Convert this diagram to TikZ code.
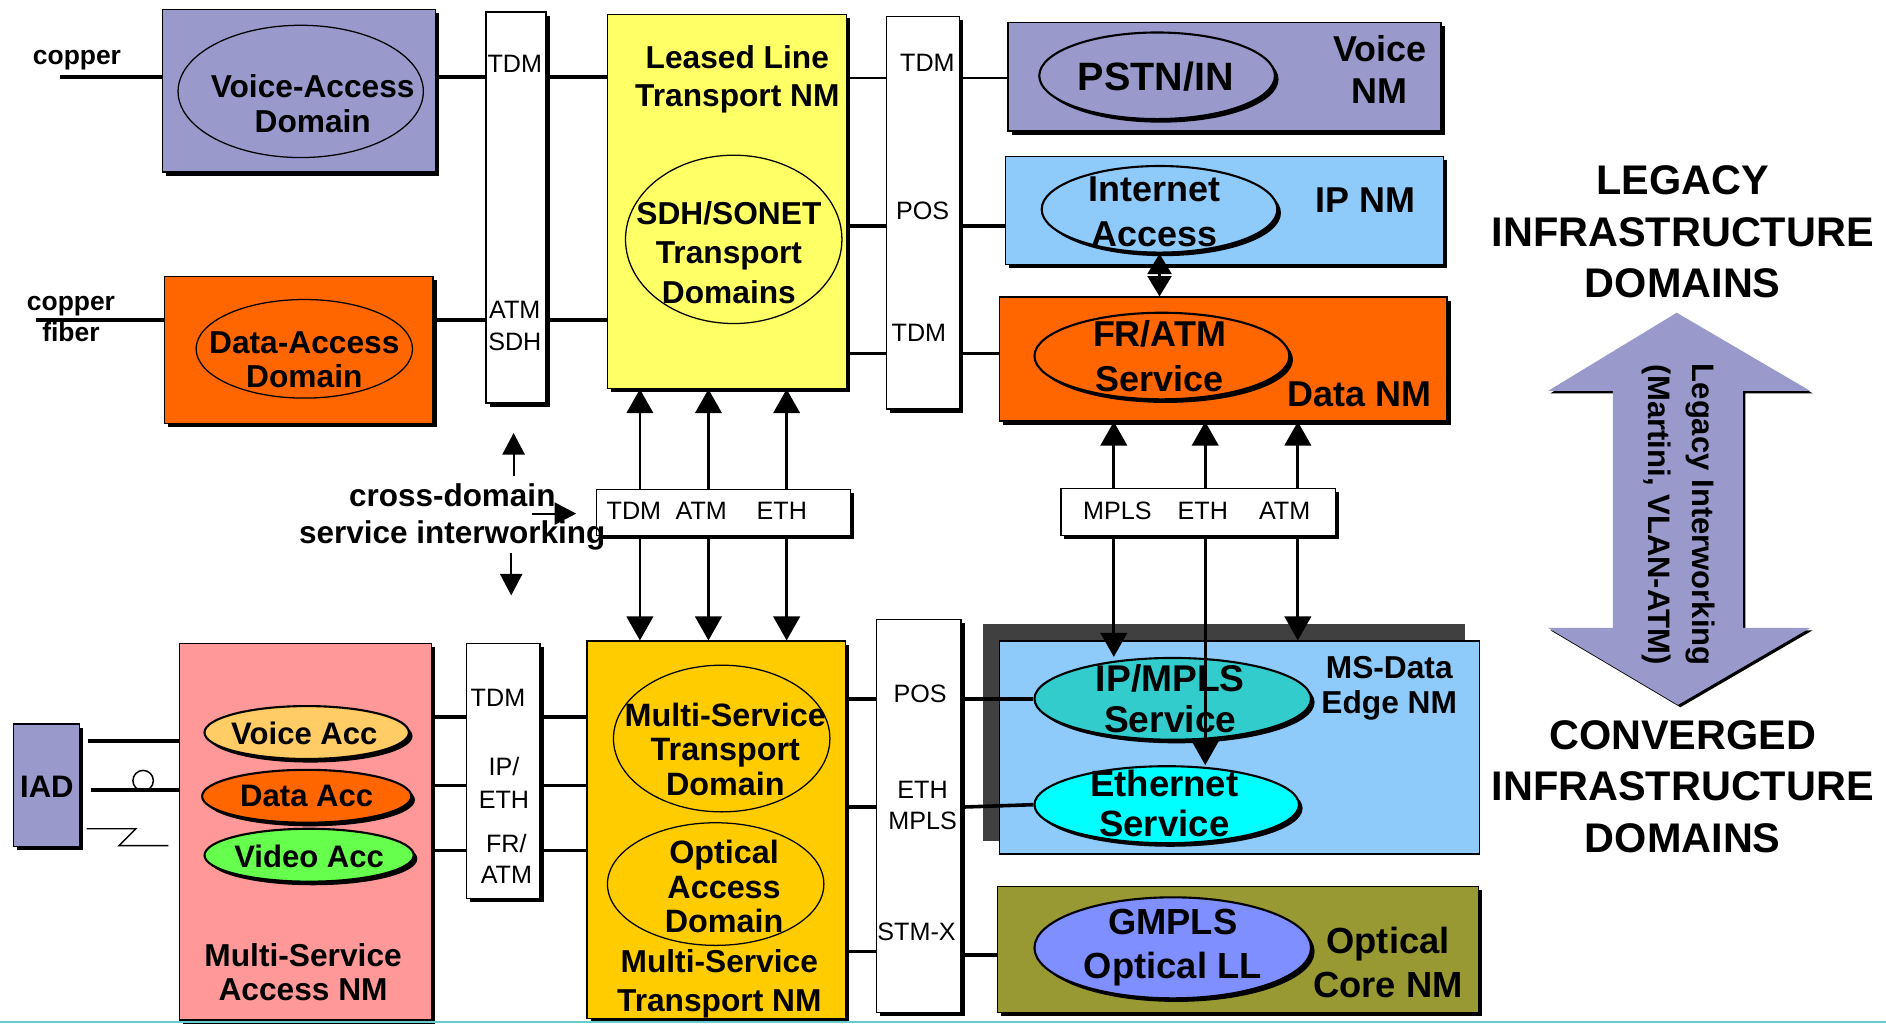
\documentclass[tikz,border=0pt]{standalone}
\usepackage{fontspec}
\setmainfont{Liberation Sans}
\usetikzlibrary{shapes.geometric, fit, shadows, arrows.meta, positioning}

\definecolor{lav}{HTML}{9999CC}
\definecolor{orng}{HTML}{FF6600}
\definecolor{ylw}{HTML}{FFFF66}
\definecolor{ltblue}{HTML}{8ECBFB}
\definecolor{gold}{HTML}{FFCC00}
\definecolor{pnk}{HTML}{FF9999}
\definecolor{olv}{HTML}{999933}
\definecolor{vacc}{HTML}{FFCC66}
\definecolor{grn}{HTML}{66FF4D}
\definecolor{tealc}{HTML}{33CCCC}
\definecolor{cyn}{HTML}{00FFFF}
\definecolor{peri}{HTML}{7F8FFF}
\definecolor{dkgray}{HTML}{404040}
\definecolor{rulec}{HTML}{66CCCC}

\tikzset{
  box/.style={draw, line width=0.6pt, inner sep=0pt},
  shad/.style={drop shadow={shadow xshift=0.06cm, shadow yshift=-0.06cm, fill=black, opacity=1}},
  ell/.style 2 args={ellipse, draw, line width=0.6pt, inner sep=0pt, minimum width=#1*0.04cm, minimum height=#2*0.04cm},
  sell/.style={shad, line width=1pt},
  lbl/.style 2 args={font=\bfseries\fontsize{#1}{#2}\selectfont, align=center, inner sep=0pt},
  proto/.style={font=\fontsize{11.9}{14.7}\selectfont, align=center, inner sep=0pt},
  conn/.style={line width=1.7pt},
  fine/.style={line width=0.7pt},
  arr/.style={line width=1.3pt, -{Triangle[width=0.44cm,length=0.4cm]}},
  sarr/.style={line width=1pt, -{Triangle[width=0.37cm,length=0.36cm]}}
}

\begin{document}
\begin{tikzpicture}[x=0.02cm, y=-0.02cm]
\useasboundingbox (0,0) rectangle (1568,852);

% legacy domains
\node[box, shad, fill=lav, fit={(135,8) (362,143)}] (vacbox) {};
\node[box, shad, fill=orng, fit={(137,230) (360,352)}] (dacbox) {};
\node[box, shad, fill=white, fit={(404,10) (454,335)}] (bar1) {};
\node[box, shad, fill=ylw, fit={(505,12) (704,323)}] (llbox) {};
\node[box, shad, fill=white, fit={(737,14) (798,340)}] (bar2) {};
\node[box, shad, fill=lav, fit={(838,19) (1198,109)}] (voicenm) {};
\node[box, shad, fill=ltblue, fit={(836,130) (1200,220)}] (ipnm) {};
\node[box, shad, fill=orng, fit={(831,247) (1203,350)}] (datanm) {};

\node[ell={102}{55}] (vacell) at (250,76) {};
\node[ell={90}{41}] (dacell) at (253,290) {};
\node[ell={90}{70}] (sdhell) at (610,199) {};
\node[ell={98}{36}, sell, fill=lav] (pstn) at (962,63) {};
\node[ell={98}{36}, sell, fill=ltblue] (inet) at (964,174) {};
\node[ell={106}{36}, sell, fill=orng] (fratm) at (966,296) {};

% converged domains
\node[box, shad, fill=lav, fit={(11,602) (66,704)}] (iad) {};
\node[box, shad, fill=pnk, fit={(149,535) (359,848)}] (pinkbox) {};
\node[box, shad, fill=white, fit={(388,535) (449,747)}] (bar3) {};
\node[box, shad, fill=gold, fit={(488,533) (703,847)}] (msbox) {};
\node[box, shad, fill=white, fit={(729,515) (799,842)}] (bar4) {};
\node[fill=dkgray, inner sep=0pt, fit={(817,519) (1218,699)}] (msshadow) {};
\node[box, fill=ltblue, fit={(831,533) (1230,710)}] (msdata) {};
\node[box, shad, fill=olv, fit={(829,737) (1229,842)}] (optcore) {};

\node[ell={85}{22}, sell, fill=vacc] (vaccell) at (255,609) {};
\node[ell={87}{22}, sell, fill=orng] (daccell) at (255,662) {};
\node[ell={87}{22}, sell, fill=grn] (videll) at (257,711) {};
\node[ell={90}{61}] (mstd) at (600,614) {};
\node[ell={90}{51}] (oad) at (595,735) {};
\node[ell={115}{34}, sell, fill=tealc] (ipmpls) at (975,581) {};
\node[ell={110}{32}, sell, fill=cyn] (ethsvc) at (970,669) {};
\node[ell={115}{42}, sell, fill=peri] (gmpls) at (975,788) {};

% interworking boxes
\node[box, shad, fill=white, fit={(496,407) (707,445)}] (xbox) {};
\node[box, shad, fill=white, fit={(882,406) (1110,445)}] (mbox) {};

% texts
\node[lbl={12.5}{14.7}] (cu1txt) at (64,50) {copper};
\node[lbl={12.5}{14.7}] (cu2txt) at (59,265) {copper\\fiber};
\node[lbl={15}{16.7}] (vactxt) at (260,86) {Voice-Access\\Domain};
\node[lbl={15}{15.9}] (dactxt) at (253,299) {Data-Access\\Domain};
\node[lbl={15}{18.1}] (lltxt) at (613,66) {Leased Line\\Transport NM};
\node[lbl={15}{18.7}] (sdhtxt) at (606,210) {SDH/SONET\\Transport\\Domains};
\node[lbl={18.7}{21}] (pstntxt) at (961,64) {PSTN/IN};
\node[lbl={17}{19.8}] (voicetxt) at (1147,58) {Voice\\NM};
\node[lbl={17}{21}] (inettxt) at (960,176) {Internet\\Access};
\node[lbl={17}{21}] (ipnmtxt) at (1135,166) {IP NM};
\node[lbl={17}{21.5}] (fratmtxt) at (964,296) {FR/ATM\\Service};
\node[lbl={17}{21}] (datatxt) at (1130,328) {Data NM};

\node[proto] (b1tdm) at (428,53) {TDM};
\node[proto] (b1atm) at (428,271) {ATM\\SDH};
\node[proto] (b2tdm) at (771,52) {TDM};
\node[proto] (b2pos) at (767,175) {POS};
\node[proto] (b2tdm2) at (764,277) {TDM};
\node[proto] (xtdmtxt) at (527,425) {TDM};
\node[proto] (xatmtxt) at (583,425) {ATM};
\node[proto] (xethtxt) at (650,425) {ETH};
\node[proto] (mmplstxt) at (929,425) {MPLS};
\node[proto] (methtxt) at (1000,425) {ETH};
\node[proto] (matmtxt) at (1068,425) {ATM};
\node[proto] (b3tdm) at (414,580) {TDM};
\node[proto, font=\fontsize{11.9}{15.3}\selectfont] (b3ip) at (419,651) {IP/\\ETH};
\node[proto] (b3fr) at (421,714) {FR/\\ATM};
\node[proto] (b4pos) at (765,577) {POS};
\node[proto] (b4eth) at (767,670) {ETH\\MPLS};
\node[proto] (b4stm) at (762,775) {STM-X};

\node[lbl={14.9}{17.6}] (xdom) at (376,430) {cross-domain\\service interworking};
\node[lbl={14.7}{16.4}] (iadtxt) at (39,654) {IAD};
\node[lbl={14.7}{16.4}] (vacctxt) at (253,610) {Voice Acc};
\node[lbl={14.7}{16.4}] (dacctxt) at (255,662) {Data Acc};
\node[lbl={14.7}{16.4}] (vidtxt) at (257,712) {Video Acc};
\node[lbl={15}{15.9}] (msanm) at (252,808) {Multi-Service\\Access NM};
\node[lbl={15.3}{16.2}] (mstdtxt) at (603,623) {Multi-Service\\Transport\\Domain};
\node[lbl={15.3}{16.4}] (oadtxt) at (602,737) {Optical\\Access\\Domain};
\node[lbl={15}{18.1}] (mstnm) at (598,818) {Multi-Service\\Transport NM};
\node[lbl={17.6}{19.3}] (ipmplstxt) at (973,581) {IP/MPLS\\Service};
\node[lbl={15}{16.4}] (msdtxt) at (1155,572) {MS-Data\\Edge NM};
\node[lbl={17.3}{19.3}] (ethtxt) at (968,668) {Ethernet\\Service};
\node[lbl={17.2}{21}] (gmplstxt) at (975,788) {GMPLS\\Optical LL};
\node[lbl={17.2}{21}] (octxt) at (1154,800) {Optical\\Core NM};

\node[lbl={19.6}{24.4}] (legacy) at (1399,193) {LEGACY\\INFRASTRUCTURE\\DOMAINS};
\node[lbl={19.6}{24.4}] (conv) at (1399,654) {CONVERGED\\INFRASTRUCTURE\\DOMAINS};

% connectors, upper half
\coordinate (cu1) at (50,64);
\coordinate (cu2) at (30,266);
\draw[conn] (cu1) -- (vacbox.west |- cu1);
\draw[conn] (cu2) -- (dacbox.west |- cu2);
\draw[conn] (vacbox.east |- cu1) -- (bar1.west |- cu1);
\draw[conn] (bar1.east |- cu1) -- (llbox.west |- cu1);
\draw[conn] (dacbox.east |- cu2) -- (bar1.west |- cu2);
\draw[conn] (bar1.east |- cu2) -- (llbox.west |- cu2);

\coordinate (rtdm) at (0,65);
\coordinate (rpos) at (0,188);
\coordinate (rtdm2) at (0,294);
\draw[fine] (llbox.east |- rtdm) -- (bar2.west |- rtdm);
\draw[fine] (bar2.east |- rtdm) -- (voicenm.west |- rtdm);
\draw[conn] (llbox.east |- rpos) -- (bar2.west |- rpos);
\draw[conn] (bar2.east |- rpos) -- (ipnm.west |- rpos);
\draw[conn] (llbox.east |- rtdm2) -- (bar2.west |- rtdm2);
\draw[conn] (bar2.east |- rtdm2) -- (datanm.west |- rtdm2);

\draw[line width=1pt, {Triangle[width=0.4cm,length=0.34cm]}-{Triangle[width=0.4cm,length=0.34cm]}]
  (inet.south) -- (datanm.north -| inet.south);

% connectors, lower half
\coordinate (ia) at (0,616);
\coordinate (ib) at (0,657);
\draw[conn, shorten <=0.14cm] (iad.east |- ia) -- (pinkbox.west |- ia);
\draw[conn, shorten <=0.18cm] (iad.east |- ib) -- (pinkbox.west |- ib);
\draw[fine] (119,649) circle[radius=8.5];
\draw[fine] (72,689) -- (113,689) -- (99,703) -- (140,703);

\coordinate (ra) at (0,596);
\coordinate (rb) at (0,653);
\coordinate (rc) at (0,707);
\foreach \r in {ra,rb,rc} {
  \draw[conn] (pinkbox.east |- \r) -- (bar3.west |- \r);
  \draw[conn] (bar3.east |- \r) -- (msbox.west |- \r);
}

\coordinate (rpos2) at (0,581);
\coordinate (reth) at (0,671);
\coordinate (rstm) at (0,791);
\coordinate (rstm2) at (0,794);
\draw[conn] (msbox.east |- rpos2) -- (bar4.west |- rpos2);
\draw[conn] (bar4.east |- rpos2) -- (ipmpls.west);
\draw[conn] (msbox.east |- reth) -- (bar4.west |- reth);
\draw[conn] (bar4.east |- reth) -- (ethsvc.west);
\draw[conn] (msbox.east |- rstm) -- (bar4.west |- rstm);
\draw[conn] (bar4.east |- rstm2) -- (optcore.west |- rstm2);

% interworking arrows
\coordinate (xtdm) at (532,0);
\coordinate (xatm) at (589,0);
\coordinate (xeth) at (654,0);
\foreach \c in {xtdm,xatm,xeth} {
  \draw[arr] (xbox.north -| \c) -- (llbox.south -| \c);
  \draw[arr] (xbox.south -| \c) -- (msbox.north -| \c);
}
\coordinate (mmpls) at (926,0);
\coordinate (meth) at (1002,0);
\coordinate (matm) at (1079,0);
\foreach \c in {mmpls,meth,matm}
  \draw[arr] (mbox.north -| \c) -- (datanm.south -| \c);
\draw[arr] (mbox.south -| mmpls) -- (mmpls |- ipmpls.north);
\draw[arr] (mbox.south -| meth) -- (meth |- ethsvc.north);
\draw[arr] (mbox.south -| matm) -- (msdata.north -| matm);

\coordinate (xup0) at (427,396);
\coordinate (xup) at (427,360);
\coordinate (xrt0) at (442,427);
\coordinate (xrt) at (479,427);
\coordinate (xdn0) at (425,460);
\coordinate (xdn) at (425,495);
\draw[sarr] (xup0) -- (xup);
\draw[sarr] (xrt0) -- (xrt);
\draw[sarr] (xdn0) -- (xdn);

% legacy/converged arrow
\fill[black, shift={(2,2)}] (1394,260) -- (1505,325) -- (1449,325) -- (1449,522) -- (1505,522)
  -- (1395,586) -- (1287,522) -- (1341,522) -- (1341,325) -- (1287,325) -- cycle;
\fill[lav] (1394,260) -- (1505,325) -- (1449,325) -- (1449,522) -- (1505,522)
  -- (1395,586) -- (1287,522) -- (1341,522) -- (1341,325) -- (1287,325) -- cycle;
\node[lbl={14.7}{21}, rotate=-90] (legint) at (1395.5,428) {Legacy Interworking\\(Martini, VLAN-ATM)};

\draw[rulec, line width=1pt] (0,850) -- (1568,850);
\end{tikzpicture}
\end{document}
